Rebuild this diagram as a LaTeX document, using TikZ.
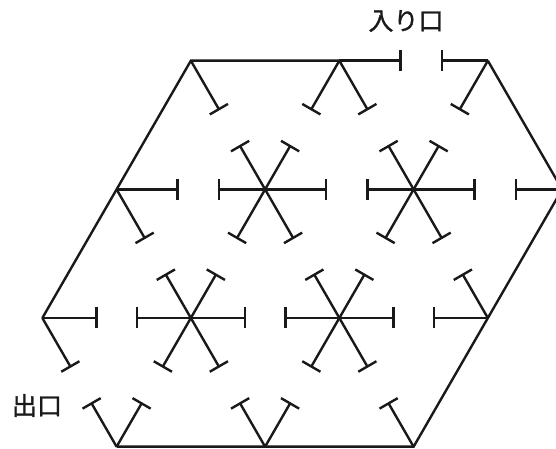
\documentclass[tikz,border=0pt]{standalone}
\usepackage{fontspec}
\newfontfamily\jpfont[FakeBold=1.2]{Noto Sans CJK JP}
\begin{document}
\begin{tikzpicture}[x=1pt,y=1pt,
  wall/.style={line width=2.4pt, line cap=butt, line join=miter, draw=black!90},
  lbl/.style={font=\jpfont\fontsize{25}{25}\selectfont, inner sep=0pt, text=black!90}]
\useasboundingbox (0,0) rectangle (556,449);
\clip (0,0) rectangle (556,449);
% lattice points
\coordinate (A0) at (116.6,2.3);
\coordinate (A1) at (265.1,2.3);
\coordinate (A2) at (413.6,2.3);
\coordinate (B0) at (42.35,131.0);
\coordinate (B1) at (190.85,131.0);
\coordinate (B2) at (339.35,131.0);
\coordinate (B3) at (487.85,131.0);
\coordinate (C0) at (116.6,259.6);
\coordinate (C1) at (265.1,259.6);
\coordinate (C2) at (413.6,259.6);
\coordinate (C3) at (562.1,259.6);
\coordinate (D0) at (190.85,388.3);
\coordinate (D1) at (339.35,388.3);
\coordinate (D2) at (487.85,388.3);
\newcommand\stubat[3]{%
  \draw[wall] (#1) -- ++(#2:#3) coordinate (stubend);
  \draw[wall] (stubend) ++({#2+90}:10.5) -- ++({#2-90}:21);}
% outer walls
\draw[wall] (B0) -- (C0) -- (D0) -- (D1);
\draw[wall] (A0) -- (A1) -- (A2) -- (B3) -- (C3) -- (D2);
% row A
\stubat{A0}{120}{50} \stubat{A0}{60}{50}
\stubat{A1}{120}{50} \stubat{A1}{60}{50}
\stubat{A2}{120}{50}
% row B
\stubat{B0}{0}{54} \stubat{B0}{-60}{56}
\foreach \n in {B1,B2}{
  \stubat{\n}{180}{54} \stubat{\n}{0}{54}
  \stubat{\n}{240}{56} \stubat{\n}{-60}{56}
  \stubat{\n}{120}{50} \stubat{\n}{60}{50}
}
\stubat{B3}{180}{54} \stubat{B3}{120}{50}
% row C
\stubat{C0}{0}{61} \stubat{C0}{-60}{56}
\foreach \n in {C1,C2}{
  \stubat{\n}{180}{46} \stubat{\n}{0}{61}
  \stubat{\n}{240}{56} \stubat{\n}{-60}{56}
  \stubat{\n}{120}{50} \stubat{\n}{60}{50}
}
\stubat{C3}{180}{46}
% row D
\stubat{D0}{-60}{56}
\stubat{D1}{0}{61} \stubat{D1}{240}{56} \stubat{D1}{-60}{56}
\stubat{D2}{180}{46} \stubat{D2}{240}{56}
% labels
\node[lbl] (entr) at (406,428) {入り口};
\node[lbl] (exitl) at (37,43.5) {出口};
\end{tikzpicture}
\end{document}
